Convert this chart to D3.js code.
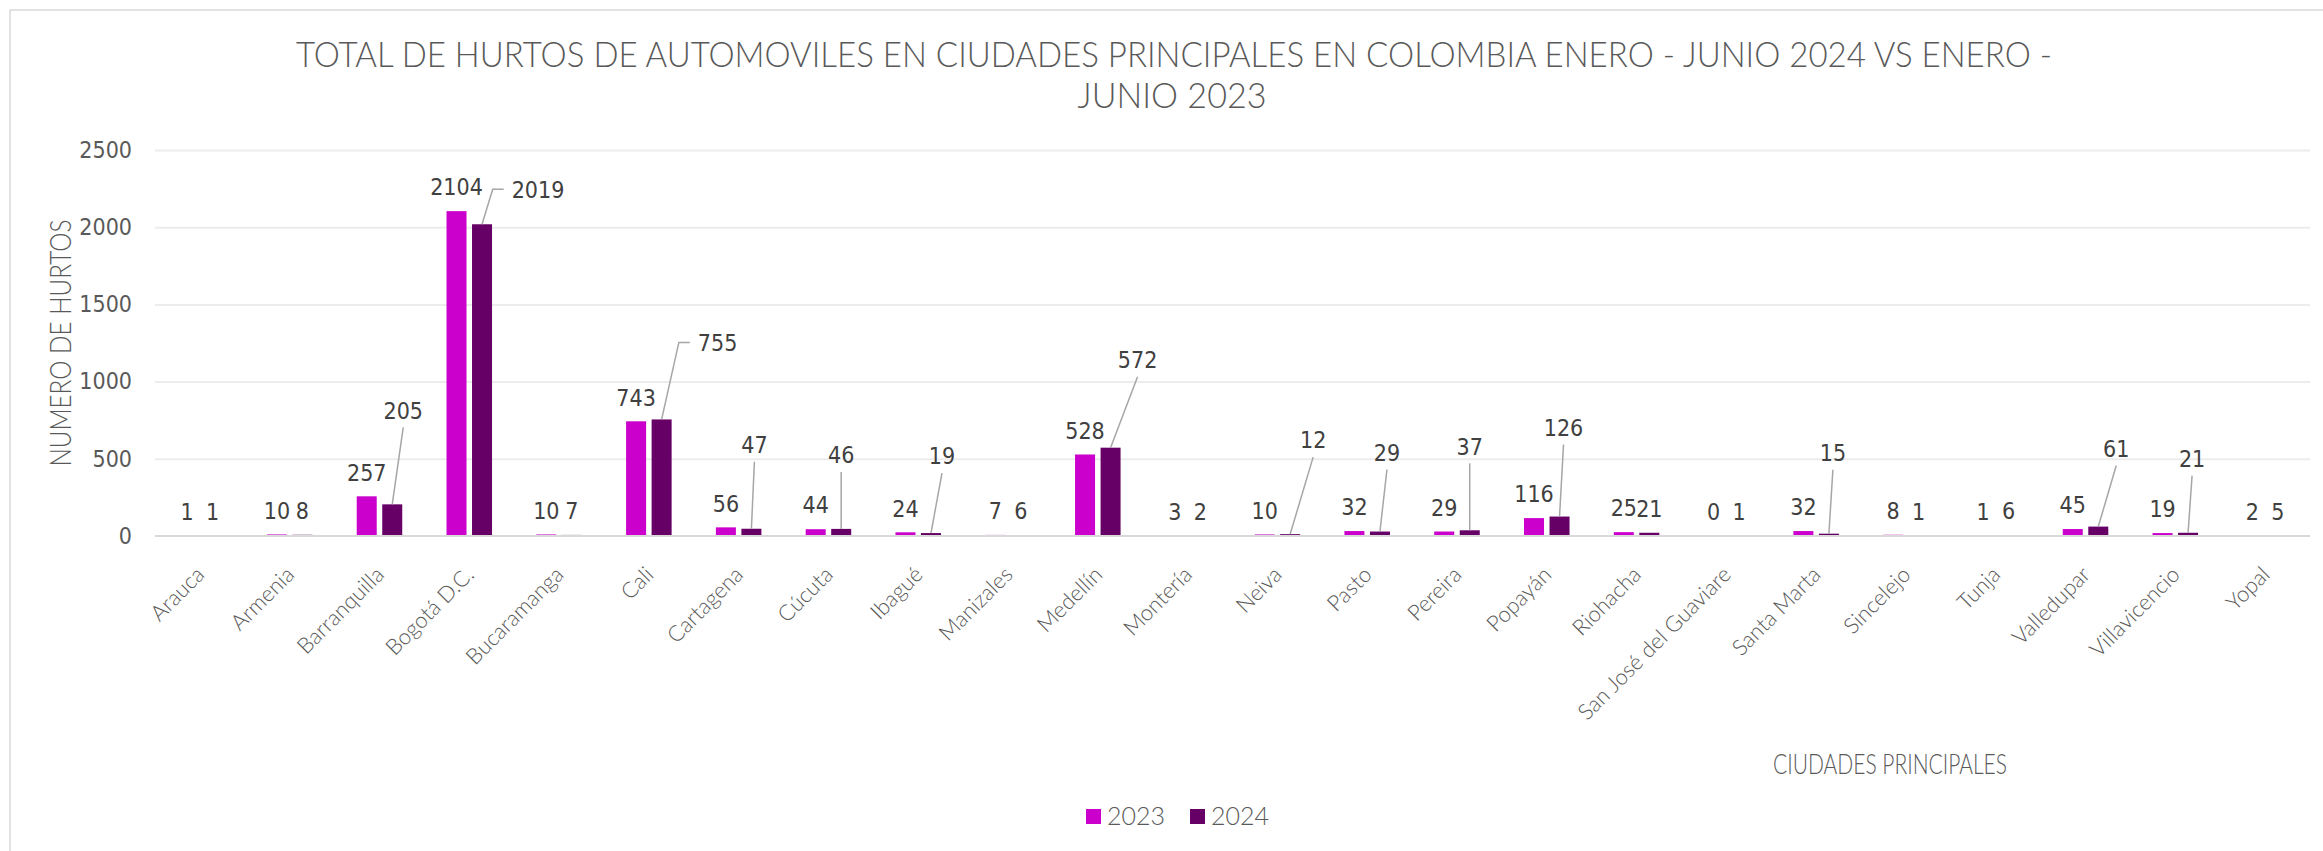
<!DOCTYPE html>
<html>
<head>
<meta charset="utf-8">
<script src="https://cdn.jsdelivr.net/npm/d3@7"></script>
<style>
    body { margin: 0; background: #fff; }
    .tick line { stroke: #ececec; stroke-width: 2; }
    .num { font-family: "Liberation Sans Narrow", "DejaVu Sans Condensed", sans-serif; }
    .light { font-family: Lato, "Open Sans", sans-serif; font-weight: 300; }
</style>
</head>
<body>
<div id="holder"></div>
<script>
const cities = ["Arauca", "Armenia", "Barranquilla", "Bogotá D.C.", "Bucaramanga", "Cali", "Cartagena", "Cúcuta",
    "Ibagué", "Manizales", "Medellín", "Montería", "Neiva", "Pasto", "Pereira", "Popayán", "Riohacha",
    "San José del Guaviare", "Santa Marta", "Sincelejo", "Tunja", "Valledupar", "Villavicencio", "Yopal"];
const hurtos2023 = [1, 10, 257, 2104, 10, 743, 56, 44, 24, 7, 528, 3, 10, 32, 29, 116, 25, 0, 32, 8, 1, 45, 19, 2];
const hurtos2024 = [1, 8, 205, 2019, 7, 755, 47, 46, 19, 6, 572, 2, 12, 29, 37, 126, 21, 1, 15, 1, 6, 61, 21, 5];
const series = ["2023", "2024"];
const yTicks = [0, 500, 1000, 1500, 2000, 2500];

// labels of 2024 that were dragged away from their bar (pixel offsets, by city index)
const movedLabels2024 = {2: [11, -70], 3: [56, -11], 5: [56, -53], 6: [3, -60], 7: [0, -50], 8: [11, -53],
    10: [27, -64], 12: [23, -70], 13: [7, -55], 14: [0, -60], 15: [4, -65], 18: [4, -57], 21: [18, -54], 22: [4, -50]};

const colors = {"2023": "#cc00cc", "2024": "#660066"};
const w = 2323, h = 851;
const plotLeft = 155, plotRight = 2310, plotTop = 150, plotBottom = 536;

const svg = d3.select('#holder')
    .append('svg')
    .attr('width', w)
    .attr('height', h);

svg.append('rect')
    .attr('x', 10).attr('y', 10)
    .attr('width', w + 20).attr('height', h + 20)
    .attr('fill', 'none')
    .attr('stroke', '#d9d9d9')
    .attr('stroke-width', 1.5);

const x0 = d3.scaleBand()
    .domain(cities)
    .range([plotLeft, plotRight])
    .paddingInner(0.493)
    .paddingOuter(0.2465);

const x1 = d3.scaleBand()
    .domain(series)
    .range([0, x0.bandwidth()])
    .paddingInner(0.216);

const y = d3.scaleLinear()
    .domain([0, 2500])
    .range([plotBottom, plotTop]);

// grid
svg.append('g')
    .attr('transform', `translate(${plotLeft},0)`)
    .call(d3.axisLeft(y).tickValues(yTicks.slice(1)).tickSize(-(plotRight - plotLeft)).tickFormat(''))
    .call(g => g.select('.domain').remove());

// y labels
svg.append('g')
    .attr('transform', `translate(${plotLeft},0)`)
    .call(d3.axisLeft(y).tickValues(yTicks).tickSize(0).tickPadding(23).tickFormat(d3.format('d')))
    .call(g => g.select('.domain').remove())
    .selectAll('text')
    .attr('class', 'num')
    .attr('font-size', 23)
    .attr('fill', '#595959');

const rows = cities.map((c, i) => ({city: c, i, values: [hurtos2023[i], hurtos2024[i]]}));

const groups = svg.selectAll('g.city')
    .data(rows)
    .enter()
    .append('g')
    .attr('class', 'city')
    .attr('transform', d => `translate(${x0(d.city)},0)`);

groups.selectAll('rect')
    .data(d => d.values.map((v, k) => ({key: series[k], v})))
    .enter()
    .append('rect')
    .attr('x', d => x1(d.key))
    .attr('width', x1.bandwidth())
    .attr('y', d => y(d.v))
    .attr('height', d => y(0) - y(d.v))
    .attr('fill', d => colors[d.key]);

// baseline
svg.append('line')
    .attr('x1', plotLeft).attr('x2', plotRight)
    .attr('y1', y(0)).attr('y2', y(0))
    .attr('stroke', '#d9d9d9')
    .attr('stroke-width', 2);

// data labels
const labels = svg.append('g').attr('class', 'num').attr('font-size', 23).attr('fill', '#404040');

rows.forEach(d => {
    series.forEach((s, k) => {
        const v = d.values[k];
        const bx = x0(d.city) + x1(s) + x1.bandwidth() / 2;
        const by = y(v);
        let lx = bx, ly = by - 24;
        const moved = k === 1 ? movedLabels2024[d.i] : null;
        if (moved) {
            lx += moved[0];
            ly += moved[1];
        }
        const t = labels.append('text')
            .attr('x', lx)
            .attr('y', ly)
            .attr('dy', '0.36em')
            .attr('text-anchor', 'middle')
            .text(v);
        if (moved) {
            const half = t.node().getComputedTextLength() / 2;
            const path = d3.path();
            path.moveTo(bx, by);
            if (moved[0] > half + 10) {
                path.lineTo(lx - half - 19, ly);
                path.lineTo(lx - half - 8, ly);
            } else {
                path.lineTo(lx, ly + 17);
            }
            svg.append('path')
                .attr('d', path.toString())
                .attr('fill', 'none')
                .attr('stroke', '#a6a6a6')
                .attr('stroke-width', 1.5);
        }
    });
});

// x axis labels
svg.append('g')
    .attr('transform', `translate(0,${plotBottom})`)
    .call(d3.axisBottom(x0).tickSize(0))
    .call(g => g.select('.domain').remove())
    .selectAll('text')
    .attr('class', 'light')
    .attr('font-size', 22)
    .attr('fill', '#595959')
    .attr('x', 0).attr('y', 0).attr('dy', 0)
    .attr('text-anchor', 'end')
    .attr('transform', 'translate(6,40) rotate(-45)');

// titles
const title = svg.append('g').attr('class', 'light').attr('fill', '#595959').attr('font-size', 36);
title.append('text')
    .attr('x', 1174).attr('y', 67)
    .attr('text-anchor', 'middle')
    .attr('textLength', 1756)
    .attr('lengthAdjust', 'spacingAndGlyphs')
    .text('TOTAL DE HURTOS DE AUTOMOVILES EN CIUDADES PRINCIPALES EN COLOMBIA ENERO - JUNIO 2024 VS ENERO -');
title.append('text')
    .attr('x', 1172).attr('y', 108)
    .attr('text-anchor', 'middle')
    .attr('textLength', 189)
    .attr('lengthAdjust', 'spacingAndGlyphs')
    .text('JUNIO 2023');

svg.append('text')
    .attr('class', 'light')
    .attr('fill', '#595959')
    .attr('font-size', 30)
    .attr('text-anchor', 'middle')
    .attr('transform', 'translate(71,343) rotate(-90)')
    .attr('textLength', 247)
    .attr('lengthAdjust', 'spacingAndGlyphs')
    .text('NUMERO DE HURTOS');

svg.append('text')
    .attr('class', 'light')
    .attr('fill', '#595959')
    .attr('font-size', 27)
    .attr('text-anchor', 'middle')
    .attr('x', 1890).attr('y', 774)
    .attr('textLength', 234)
    .attr('lengthAdjust', 'spacingAndGlyphs')
    .text('CIUDADES PRINCIPALES');

// legend
const legend = svg.append('g').attr('class', 'light').attr('font-size', 25).attr('fill', '#595959');
const legendX = [1086, 1190];
series.forEach((s, k) => {
    legend.append('rect')
        .attr('x', legendX[k]).attr('y', 809)
        .attr('width', 15).attr('height', 15)
        .attr('fill', colors[s]);
    legend.append('text')
        .attr('x', legendX[k] + 21).attr('y', 825)
        .text(s);
});
</script>
</body>
</html>
